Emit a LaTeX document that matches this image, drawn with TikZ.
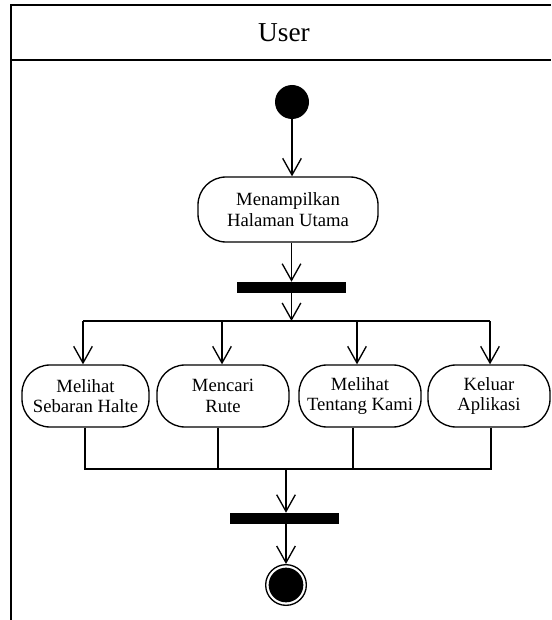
\documentclass[tikz,border=0pt]{standalone}
\usepackage{fontspec}
\setmainfont{Liberation Serif}
\usetikzlibrary{arrows.meta}
\begin{document}
\begin{tikzpicture}[x=0.75pt,y=-0.75pt,
  flow/.style={line width=1pt,-{Straight Barb[length=12.5pt,width=14pt,line width=1pt]}},
  link/.style={line width=1pt},
  lane/.style={line width=1.5pt},
  activity/.style={draw,line width=1pt,rounded corners=21pt,align=center,inner sep=0pt,
    font=\fontsize{14}{15.5}\selectfont,minimum height=46.5pt},
  syncbar/.style={fill=black,inner sep=0pt,minimum width=81.75pt,minimum height=8.25pt},
  initial/.style={circle,fill=black,inner sep=0pt,minimum size=25.5pt},
  final/.style={circle,draw,line width=1pt,inner sep=0pt,minimum size=30.5pt,
    path picture={\fill[black] (path picture bounding box.center) circle (13pt);}},
]
\useasboundingbox (0,0) rectangle (551,620);

% swimlane
\draw[lane] (551,5) -- (11,5) -- (11,620);
\draw[lane] (11,60) -- (551,60);
\node[font=\fontsize{20.5}{24}\selectfont] (title) at (284,33) {User};

% nodes
\node[initial] (start) at (292,102) {};
\node[activity,minimum width=135pt,minimum height=48.75pt] (home) at (288,209.5)
  {Menampilkan\\Halaman Utama};
\node[syncbar] (fork) at (291.5,287.5) {};

\node[activity,minimum width=95.25pt] (halte) at (85.5,396) {Melihat\\Sebaran Halte};
\node[activity,minimum width=99pt] (rute) at (223,396) {Mencari\\Rute};
\node[activity,minimum width=91.5pt] (kami) at (360,396) {Melihat\\Tentang Kami};
\node[activity,minimum width=91.5pt] (keluar) at (489,396) {Keluar\\Aplikasi};

\node[syncbar] (join) at (284.5,518.5) {};
\node[final] (end) at (286,585) {};

% branch points
\coordinate (f0) at (291.5,321);
\coordinate (f1) at (83,321);
\coordinate (f2) at (222,321);
\coordinate (f3) at (357,321);
\coordinate (f4) at (490,321);
\coordinate (j1) at (85,469);
\coordinate (j2) at (218,469);
\coordinate (j3) at (353,469);
\coordinate (j4) at (491,469);
\coordinate (j0) at (286,469);

% connectors
\draw[flow] (start.south) -- (start.south |- home.north);
\draw[flow] (fork |- home.south) -- (fork.north);
\draw[flow] (fork.south) -- (f0);
\draw[link] (f1) -- (f4);
\draw[flow] (f1) -- (f1 |- halte.north);
\draw[flow] (f2) -- (f2 |- rute.north);
\draw[flow] (f3) -- (f3 |- kami.north);
\draw[flow] (f4) -- (f4 |- keluar.north);

\draw[link] (halte.south -| j1) -- (j1) -- (j4) -- (keluar.south -| j4);
\draw[link] (rute.south -| j2) -- (j2);
\draw[link] (kami.south -| j3) -- (j3);
\draw[flow] (j0) -- (j0 |- join.north);
\draw[flow] (j0 |- join.south) -- (j0 |- end.north);
\end{tikzpicture}
\end{document}
